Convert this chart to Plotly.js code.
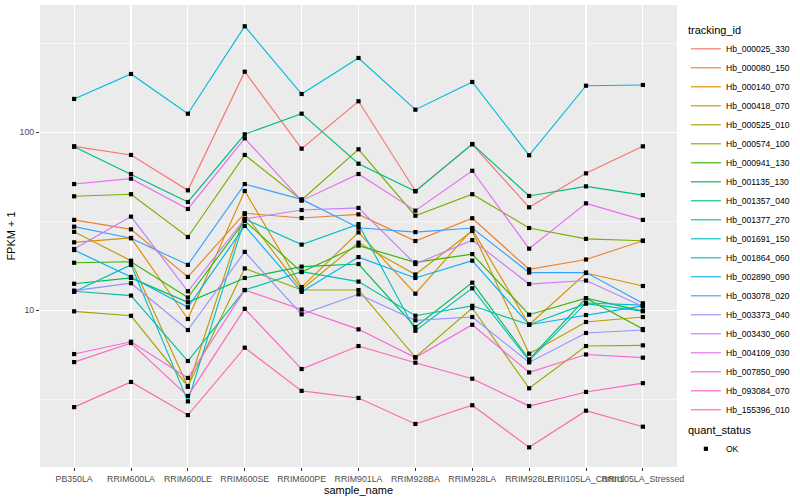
<!DOCTYPE html>
<html><head><meta charset="utf-8">
<script src="https://cdn.plot.ly/plotly-3.0.1.min.js"></script>
<style>html,body{margin:0;padding:0;background:#fff}</style>
</head><body><div id="chart" style="width:800px;height:500px"></div>
<script>
const categories = ['PB350LA','RRIM600LA','RRIM600LE','RRIM600SE','RRIM600PE','RRIM901LA','RRIM928BA','RRIM928LA','RRIM928LE','RRII105LA_Control','RRII105LA_Stressed'];

const trackingIds = ['Hb_000025_330','Hb_000080_150','Hb_000140_070','Hb_000418_070','Hb_000525_010','Hb_000574_100','Hb_000941_130','Hb_001135_130','Hb_001357_040','Hb_001377_270','Hb_001691_150','Hb_001864_060','Hb_002890_090','Hb_003078_020','Hb_003373_040','Hb_003430_060','Hb_004109_030','Hb_007850_090','Hb_093084_070','Hb_155396_010'];

const colors = ['#F8766D','#EA8331','#D89000','#C09B00','#A3A500','#7CAE00','#39B600','#00BB4E','#00BF7D','#00C1A3','#00BFC4','#00BAE0','#00B0F6','#35A2FF','#9590FF','#C77CFF','#E76BF3','#FA62DB','#FF62BC','#FF6C91'];

// FPKM + 1 per sample (order of categories)
const Hb_000025_330 = [83.4, 74.6, 47.2, 219, 80.9, 149.4, 46.8, 85.6, 37.9, 58.8, 83.4];
const Hb_000080_150 = [32.2, 28.5, 15.4, 35.1, 33.0, 34.6, 24.5, 32.9, 17.0, 19.3, 24.6];
const Hb_000140_070 = [24.1, 25.5, 8.94, 46.8, 13.5, 27.4, 12.4, 28.5, 8.3, 16.2, 13.7];
const Hb_000418_070 = [27.6, 19.0, 3.72, 34.8, 13.1, 24.0, 15.9, 27.9, 5.71, 8.6, 9.17];
const Hb_000525_010 = [9.87, 9.32, 3.75, 17.2, 13.0, 13.0, 5.45, 10.3, 3.65, 6.3, 6.36];
const Hb_000574_100 = [43.7, 44.9, 25.8, 74.6, 41.7, 80.3, 34.0, 44.9, 29.0, 25.2, 24.6];
const Hb_000941_130 = [18.5, 18.75, 11.8, 31.8, 16.4, 23.1, 18.6, 20.7, 9.45, 11.7, 7.85];
const Hb_001135_130 = [14.1, 15.2, 11.1, 15.2, 17.6, 18.2, 8.06, 14.3, 5.3, 11.7, 9.9];
const Hb_001357_040 = [83.0, 58.3, 40.6, 97.4, 127.2, 66.6, 46.6, 86.0, 43.9, 49.7, 44.4];
const Hb_001377_270 = [12.8, 12.1, 5.19, 13.0, 16.5, 14.5, 9.32, 10.6, 8.3, 10.9, 9.9];
const Hb_001691_150 = [12.7, 18.0, 3.08, 32.6, 23.4, 30.5, 7.68, 13.3, 5.21, 11.0, 10.7];
const Hb_001864_060 = [153.9, 212.6, 127.2, 394, 164.1, 261.5, 134, 191.7, 74.3, 182.7, 184.4];
const Hb_002890_090 = [21.8, 15.4, 10.4, 29.8, 12.7, 19.9, 15.2, 19.0, 8.3, 9.41, 10.6];
const Hb_003078_020 = [29.5, 25.4, 18.0, 51.2, 42.0, 29.1, 27.5, 29.0, 16.3, 16.3, 10.95];
const Hb_003373_040 = [12.9, 14.2, 7.75, 21.3, 9.5, 12.3, 8.79, 9.17, 5.1, 7.46, 7.75];
const Hb_003430_060 = [22.1, 33.6, 12.8, 32.6, 36.6, 37.6, 18.2, 24.8, 14.05, 14.7, 10.5];
const Hb_004109_030 = [51.2, 54.9, 37.1, 92.5, 41.3, 58.3, 36.3, 60.8, 22.2, 39.9, 32.2];
const Hb_007850_090 = [5.68, 6.66, 4.17, 13.0, 10.1, 7.82, 5.43, 8.3, 4.48, 5.65, 5.42];
const Hb_093084_070 = [5.12, 6.55, 3.3, 10.2, 4.68, 6.3, 5.08, 4.13, 2.9, 3.48, 3.9];
const Hb_155396_010 = [2.86, 3.96, 2.58, 6.17, 3.53, 3.22, 2.3, 2.93, 1.70, 2.73, 2.22];

const seriesValues = [Hb_000025_330, Hb_000080_150, Hb_000140_070, Hb_000418_070, Hb_000525_010, Hb_000574_100, Hb_000941_130, Hb_001135_130, Hb_001357_040, Hb_001377_270, Hb_001691_150, Hb_001864_060, Hb_002890_090, Hb_003078_020, Hb_003373_040, Hb_003430_060, Hb_004109_030, Hb_007850_090, Hb_093084_070, Hb_155396_010];

const yTickVals = [10, 100];
const yTickText = ['10', '100'];
const yMinorVals = [3.1623, 31.623, 316.23];
const quantStatus = 'OK';

const traces = trackingIds.map((id, i) => ({
  type: 'scatter', mode: 'lines', name: id,
  x: categories, y: seriesValues[i],
  line: {color: colors[i], width: 1.15},
  legend: 'legend', hoverinfo: 'skip'
}));

const px = [], py = [];
seriesValues.forEach(v => v.forEach((val, j) => { px.push(categories[j]); py.push(val); }));
traces.push({
  type: 'scatter', mode: 'markers', name: quantStatus,
  x: px, y: py,
  marker: {symbol: 'square', size: 4.2, color: '#000000'},
  legend: 'legend2', showlegend: true, hoverinfo: 'skip'
});

const plotL = 40.3, plotR = 683, plotT = 5, plotB = 467;
const pw = plotR - plotL, ph = plotB - plotT;
const lx = (692 - plotL) / pw;

const layout = {
  width: 800, height: 500,
  margin: {l: plotL, r: 800 - plotR, t: plotT, b: 500 - plotB, pad: 0},
  paper_bgcolor: '#FFFFFF', plot_bgcolor: '#EBEBEB',
  font: {family: 'Liberation Sans, Arial, sans-serif', color: '#000000', size: 9},
  showlegend: true,
  xaxis: {
    type: 'category', range: [-0.6, 10.6], fixedrange: true,
    showgrid: true, gridcolor: '#FFFFFF', gridwidth: 1.1, zeroline: false, showline: false,
    ticks: 'outside', ticklen: 3, tickwidth: 1, tickcolor: '#333333',
    tickangle: 0, tickfont: {size: 8.8, color: '#4D4D4D'},
    title: {text: 'sample_name', font: {size: 11, color: '#000000'}, standoff: 2},
    automargin: false
  },
  yaxis: {
    type: 'log', range: [0.120, 2.715], fixedrange: true,
    tickmode: 'array', tickvals: yTickVals, ticktext: yTickText,
    showgrid: true, gridcolor: '#FFFFFF', gridwidth: 1.1, zeroline: false, showline: false,
    ticks: 'outside', ticklen: 3, tickwidth: 1, tickcolor: '#333333',
    tickfont: {size: 8.8, color: '#4D4D4D'},
    minor: {tickmode: 'array', tickvals: yMinorVals, showgrid: true, gridcolor: '#FFFFFF', gridwidth: 0.55, ticks: ''},
    title: {text: 'FPKM + 1', font: {size: 11, color: '#000000'}, standoff: 1},
    automargin: false
  },
  legend: {
    x: lx, xanchor: 'left', y: (plotB - 20) / ph, yanchor: 'top',
    bgcolor: 'rgba(0,0,0,0)', borderwidth: 0,
    title: {text: 'tracking_id', font: {size: 11}},
    font: {size: 8.6}, tracegroupgap: 0, itemwidth: 30
  },
  legend2: {
    x: lx, xanchor: 'left', y: (plotB - 420) / ph, yanchor: 'top',
    bgcolor: 'rgba(0,0,0,0)', borderwidth: 0,
    title: {text: 'quant_status', font: {size: 11}},
    font: {size: 8.6}, itemwidth: 30
  }
};

Plotly.newPlot('chart', traces, layout, {displayModeBar: false, staticPlot: true});
</script></body></html>
